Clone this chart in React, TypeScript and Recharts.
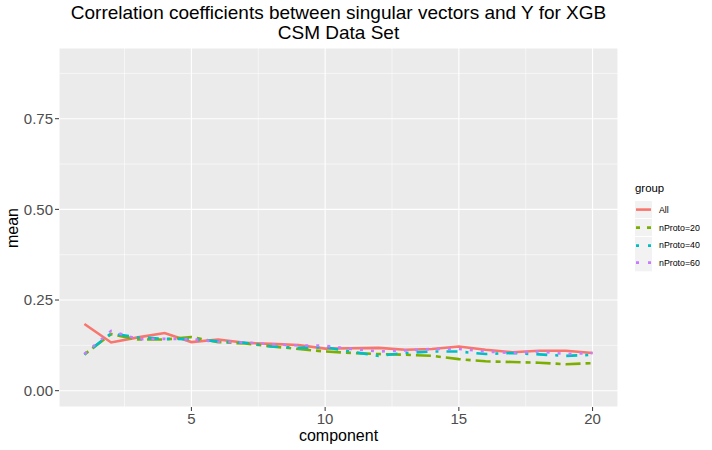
import React from 'react';
import { LineChart, Line, XAxis, YAxis, CartesianGrid, ReferenceLine } from 'recharts';

const components = [1, 2, 3, 4, 5, 6, 7, 8, 9, 10, 11, 12, 13, 14, 15, 16, 17, 18, 19, 20];
const seriesAll = [0.184, 0.133, 0.147, 0.159, 0.134, 0.141, 0.132, 0.129, 0.126, 0.116, 0.117, 0.118, 0.113, 0.115, 0.122, 0.113, 0.106, 0.110, 0.110, 0.104];
const seriesProto20 = [0.100, 0.156, 0.141, 0.141, 0.148, 0.134, 0.130, 0.122, 0.115, 0.108, 0.104, 0.101, 0.099, 0.096, 0.087, 0.081, 0.079, 0.077, 0.073, 0.076];
const seriesProto40 = [0.100, 0.158, 0.147, 0.143, 0.142, 0.136, 0.132, 0.122, 0.118, 0.120, 0.107, 0.096, 0.104, 0.108, 0.108, 0.101, 0.104, 0.100, 0.096, 0.099];
const seriesProto60 = [0.101, 0.165, 0.142, 0.143, 0.142, 0.135, 0.133, 0.128, 0.125, 0.124, 0.115, 0.108, 0.111, 0.115, 0.115, 0.108, 0.104, 0.108, 0.101, 0.104];

const seriesNames = ['All', 'nProto=20', 'nProto=40', 'nProto=60'];
const seriesKeys = ['all', 'p20', 'p40', 'p60'];
const seriesColors = ['#F8766D', '#7CAE00', '#00BFC4', '#C77CFF'];
const seriesDash = ['', '5 5 15 5', '3 8 11 8', '3 8'];

const xTicks = [5, 10, 15, 20];
const xMinor = [2.5, 7.5, 12.5, 17.5];
const yTicks = [0, 0.25, 0.5, 0.75];
const yMinor = [0.125, 0.375, 0.625, 0.875];

const data = components.map((c, i) => ({
  component: c,
  all: seriesAll[i],
  p20: seriesProto20[i],
  p40: seriesProto40[i],
  p60: seriesProto60[i],
}));

const FONT = '"Liberation Sans", Arial, Helvetica, sans-serif';

export default function App() {
  return (
    <div style={{ position: 'fixed', left: 0, top: 0, width: 712, height: 450, background: '#FFFFFF', fontFamily: FONT }}>
      <div style={{ position: 'absolute', left: 39, top: 3, width: 599, textAlign: 'center', fontSize: 19, lineHeight: '20px', color: '#000' }}>
        Correlation coefficients between singular vectors and Y for XGB
        <br />
        CSM Data Set
      </div>
      <LineChart width={712} height={450} data={data} margin={{ top: 48, right: 94, left: 0, bottom: 0 }}>
        <CartesianGrid fill="#EBEBEB" stroke="#FFFFFF" strokeWidth={1.1} strokeDasharray="" />
        {xMinor.map((v) => (
          <ReferenceLine key={'xm' + v} x={v} stroke="#FFFFFF" strokeWidth={0.55} />
        ))}
        {yMinor.map((v) => (
          <ReferenceLine key={'ym' + v} y={v} stroke="#FFFFFF" strokeWidth={0.55} />
        ))}
        <XAxis
          dataKey="component"
          type="number"
          domain={[0.05, 20.95]}
          ticks={xTicks}
          allowDataOverflow
          height={43}
          axisLine={false}
          tickLine={{ stroke: '#333333', strokeWidth: 1 }}
          tickSize={4}
          tickMargin={2}
          tick={{ fill: '#4D4D4D', fontSize: 15, fontFamily: FONT }}
        />
        <YAxis
          type="number"
          domain={[-0.045, 0.945]}
          ticks={yTicks}
          allowDataOverflow
          width={59}
          axisLine={false}
          tickLine={{ stroke: '#333333', strokeWidth: 1 }}
          tickSize={4}
          tickMargin={2}
          tickFormatter={(v: number) => v.toFixed(2)}
          tick={{ fill: '#4D4D4D', fontSize: 15, fontFamily: FONT }}
        />
        {seriesKeys.map((k, i) => (
          <Line
            key={k}
            dataKey={k}
            name={seriesNames[i]}
            type="linear"
            stroke={seriesColors[i]}
            strokeWidth={2.6}
            strokeDasharray={seriesDash[i] || undefined}
            dot={false}
            activeDot={false}
            isAnimationActive={false}
          />
        ))}
      </LineChart>
      <div style={{ position: 'absolute', left: 59, top: 427, width: 559, textAlign: 'center', fontSize: 16, color: '#000' }}>
        component
      </div>
      <div
        style={{
          position: 'absolute',
          left: 13,
          top: 227.5,
          transform: 'translate(-50%, -50%) rotate(-90deg)',
          fontSize: 16,
          color: '#000',
          whiteSpace: 'nowrap',
        }}
      >
        mean
      </div>
      <div style={{ position: 'absolute', left: 635, top: 182, fontFamily: FONT }}>
        <div style={{ fontSize: 11.4, height: 19, color: '#000' }}>group</div>
        {seriesNames.map((n, i) => (
          <div key={n} style={{ display: 'flex', alignItems: 'center', height: 17.7 }}>
            <svg width={17} height={17.3} style={{ display: 'block' }}>
              <rect x={0} y={0} width={17} height={17.3} fill="#F2F2F2" />
              <line
                x1={1}
                x2={16}
                y1={8.6}
                y2={8.6}
                stroke={seriesColors[i]}
                strokeWidth={2.6}
                strokeDasharray={i === 0 ? undefined : i === 1 ? '4 7 4' : '3 9 3'}
              />
            </svg>
            <span style={{ marginLeft: 7, fontSize: 8.8, color: '#000' }}>{n}</span>
          </div>
        ))}
      </div>
    </div>
  );
}
